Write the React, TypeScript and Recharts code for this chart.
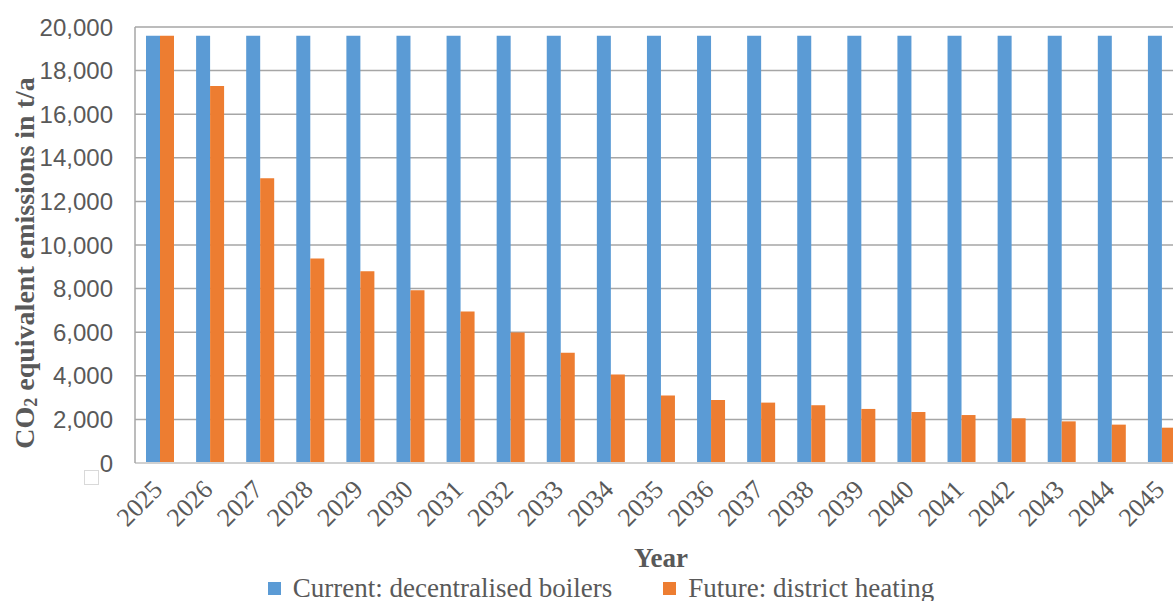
import React from 'react';
import { BarChart, Bar, XAxis, YAxis, CartesianGrid, Legend, Label } from 'recharts';

// Years on the category axis
const years = [
  '2025', '2026', '2027', '2028', '2029', '2030', '2031', '2032', '2033', '2034', '2035',
  '2036', '2037', '2038', '2039', '2040', '2041', '2042', '2043', '2044', '2045',
];

// CO2 equivalent emissions in t/a
const currentBoilers = [
  19600, 19600, 19600, 19600, 19600, 19600, 19600, 19600, 19600, 19600, 19600,
  19600, 19600, 19600, 19600, 19600, 19600, 19600, 19600, 19600, 19600,
];
const districtHeating = [
  19600, 17290, 13060, 9380, 8800, 7920, 6950, 5990, 5060, 4060, 3100,
  2890, 2770, 2650, 2480, 2340, 2200, 2050, 1910, 1760, 1620,
];

const yTicks = [0, 2000, 4000, 6000, 8000, 10000, 12000, 14000, 16000, 18000, 20000];

const seriesNames = {
  current: 'Current: decentralised boilers',
  future: 'Future: district heating',
};

const data = years.map((year, i) => ({
  year,
  current: currentBoilers[i],
  future: districtHeating[i],
}));

const SANS = '"Liberation Sans", Arial, sans-serif';
const SERIF = '"Liberation Serif", "Times New Roman", serif';
const TEXT = '#595959';

const YearTick = (props: any) => {
  const { x, y, payload } = props;
  const tx = x + 4;
  const ty = y + 28;
  return (
    <text
      x={tx}
      y={ty}
      textAnchor="end"
      transform={`rotate(-45 ${tx} ${ty})`}
      fill={TEXT}
      fontSize={26}
      fontFamily={SERIF}
    >
      {payload.value}
    </text>
  );
};

const YTitle = (props: any) => {
  const { viewBox } = props;
  const cx = viewBox.x + 24;
  const cy = viewBox.y + viewBox.height / 2 + 18;
  return (
    <text
      x={cx}
      y={cy}
      transform={`rotate(-90 ${cx} ${cy})`}
      textAnchor="middle"
      dominantBaseline="central"
      fill={TEXT}
      fontSize={28}
      fontWeight="bold"
      fontFamily={SERIF}
    >
      CO
      <tspan dy={7} fontSize={18}>2</tspan>
      <tspan dy={-7}> equivalent emissions in t/a</tspan>
    </text>
  );
};

const XTitle = (props: any) => {
  const { viewBox } = props;
  return (
    <text
      x={viewBox.x + viewBox.width / 2}
      y={viewBox.y + viewBox.height}
      textAnchor="middle"
      fill={TEXT}
      fontSize={27}
      fontWeight="bold"
      fontFamily={SERIF}
    >
      Year
    </text>
  );
};

const LegendContent = (props: any) => {
  const { payload = [] } = props;
  return (
    <div
      style={{
        display: 'flex',
        justifyContent: 'center',
        height: 34,
        paddingTop: 8,
        paddingLeft: 15,
        boxSizing: 'border-box',
        fontFamily: SERIF,
        fontSize: 27,
        lineHeight: '27px',
        color: TEXT,
      }}
    >
      {payload.map((entry: any, i: number) => (
        <div
          key={entry.value}
          style={{ display: 'flex', alignItems: 'center', marginLeft: i === 0 ? 0 : 51 }}
        >
          <span
            style={{ width: 13, height: 13, background: entry.color, marginRight: 12, display: 'inline-block' }}
          />
          <span style={{ whiteSpace: 'nowrap' }}>{entry.value}</span>
        </div>
      ))}
    </div>
  );
};

export default function App() {
  return (
    <div
      style={{
        position: 'absolute',
        left: 0,
        top: 0,
        width: 1173,
        height: 601,
        overflow: 'hidden',
        background: '#fff',
      }}
    >
      <BarChart
        width={1200}
        height={601}
        data={data}
        margin={{ top: 27, right: 13, bottom: 0, left: 0 }}
        barCategoryGap={11}
        barGap={0}
      >
        <CartesianGrid vertical={false} stroke="#a6a6a6" strokeWidth={1.5} />
        <XAxis
          dataKey="year"
          height={104}
          interval={0}
          tickLine={false}
          tickSize={0}
          tickMargin={0}
          axisLine={{ stroke: '#d0d0d0', strokeWidth: 2 }}
          tick={<YearTick />}
        >
          <Label content={<XTitle />} />
        </XAxis>
        <YAxis
          width={135}
          domain={[0, 20000]}
          ticks={yTicks}
          interval={0}
          tickLine={false}
          tickSize={0}
          tickMargin={22}
          axisLine={{ stroke: '#a6a6a6', strokeWidth: 1.5 }}
          tick={{ fill: TEXT, fontSize: 24, fontFamily: SANS }}
          tickFormatter={(v: number) => v.toLocaleString('en-US')}
        >
          <Label content={<YTitle />} />
        </YAxis>
        <Legend verticalAlign="bottom" content={<LegendContent />} />
        <Bar dataKey="current" name={seriesNames.current} fill="#5b9bd5" isAnimationActive={false} />
        <Bar dataKey="future" name={seriesNames.future} fill="#ed7d31" isAnimationActive={false} />
      </BarChart>
      <div
        style={{
          position: 'absolute',
          left: 84,
          top: 470,
          width: 15,
          height: 15,
          border: '1px solid #d9d9d9',
          boxSizing: 'border-box',
        }}
      />
    </div>
  );
}
